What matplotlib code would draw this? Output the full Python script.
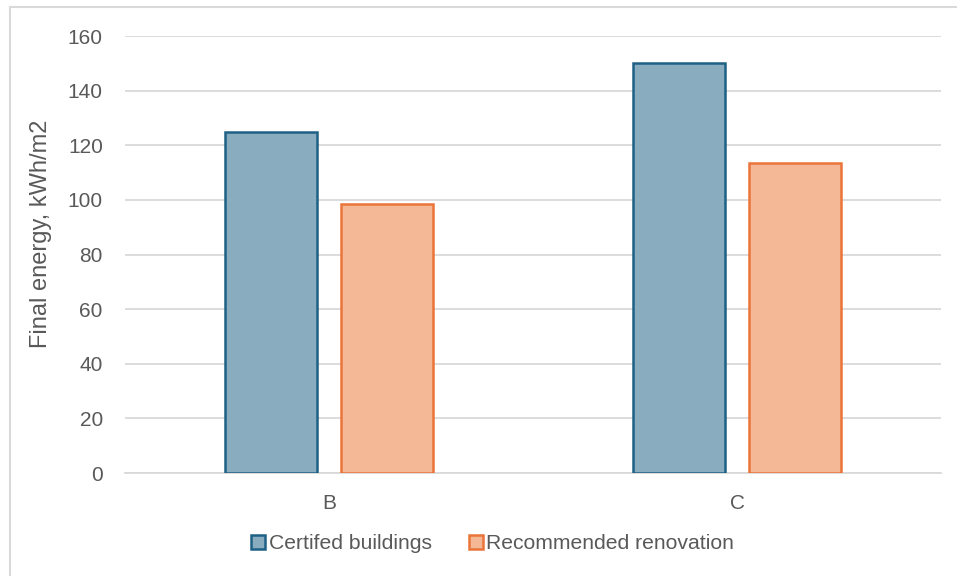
import matplotlib.pyplot as plt
from matplotlib.lines import Line2D
from matplotlib.patches import Patch
import numpy as np

plt.rcParams['font.family'] = ['Liberation Sans', 'DejaVu Sans']

categories = ['B', 'C']
certified = [125, 150]
recommended = [98.5, 113.5]
series_names = ['Certifed buildings', 'Recommended renovation']
y_ticks = [0, 20, 40, 60, 80, 100, 120, 140, 160]

cert_fill, cert_edge = '#8aacbf', '#1f6185'
rec_fill, rec_edge = '#f4b897', '#ea7439'
text_col = '#595959'

fig = plt.figure(figsize=(9.57, 5.76), dpi=100)
ax = fig.add_axes([0.1306, 0.1788, 0.8527, 0.7587])

x = np.arange(len(categories))
w = 0.226
off = 0.143
ax.bar(x - off, certified, w, color=cert_fill, edgecolor=cert_edge, linewidth=1.8, zorder=3)
ax.bar(x + off, recommended, w, color=rec_fill, edgecolor=rec_edge, linewidth=1.8, zorder=3)

ax.set_xlim(-0.5, 1.5)
ax.set_ylim(0, 160)
ax.set_yticks(y_ticks)
ax.set_xticks(x)
ax.set_xticklabels(categories)
ax.yaxis.grid(True, color='#d9d9d9', linewidth=1.3, zorder=0)
ax.set_axisbelow(True)
for s in ['top', 'right', 'left']:
    ax.spines[s].set_visible(False)
ax.spines['bottom'].set_color('#d9d9d9')
ax.spines['bottom'].set_linewidth(1.3)
ax.tick_params(axis='both', length=0, labelsize=15, labelcolor=text_col)
ax.tick_params(axis='y', pad=16)
ax.tick_params(axis='x', pad=15)
ax.set_ylabel('Final energy, kWh/m2', fontsize=17, color=text_col)
ax.yaxis.set_label_coords(-0.089, 0.547)

handles = [Patch(facecolor=cert_fill, edgecolor=cert_edge, linewidth=1.8),
           Patch(facecolor=rec_fill, edgecolor=rec_edge, linewidth=1.8)]
fig.legend(handles, series_names, loc='center', bbox_to_anchor=(0.5146, 0.0556),
           ncol=2, frameon=False, fontsize=15.2, labelcolor=text_col,
           handlelength=0.7, handleheight=0.7, handletextpad=0.15, columnspacing=1.75)

# outer chart border (top and left visible)
fig.add_artist(Line2D([10 / 957, 1], [1 - 7 / 576, 1 - 7 / 576], transform=fig.transFigure,
                      color='#d9d9d9', linewidth=1.5))
fig.add_artist(Line2D([10 / 957, 10 / 957], [0, 1 - 7 / 576], transform=fig.transFigure,
                      color='#d9d9d9', linewidth=1.5))

fig.savefig('out.png', dpi=100)
